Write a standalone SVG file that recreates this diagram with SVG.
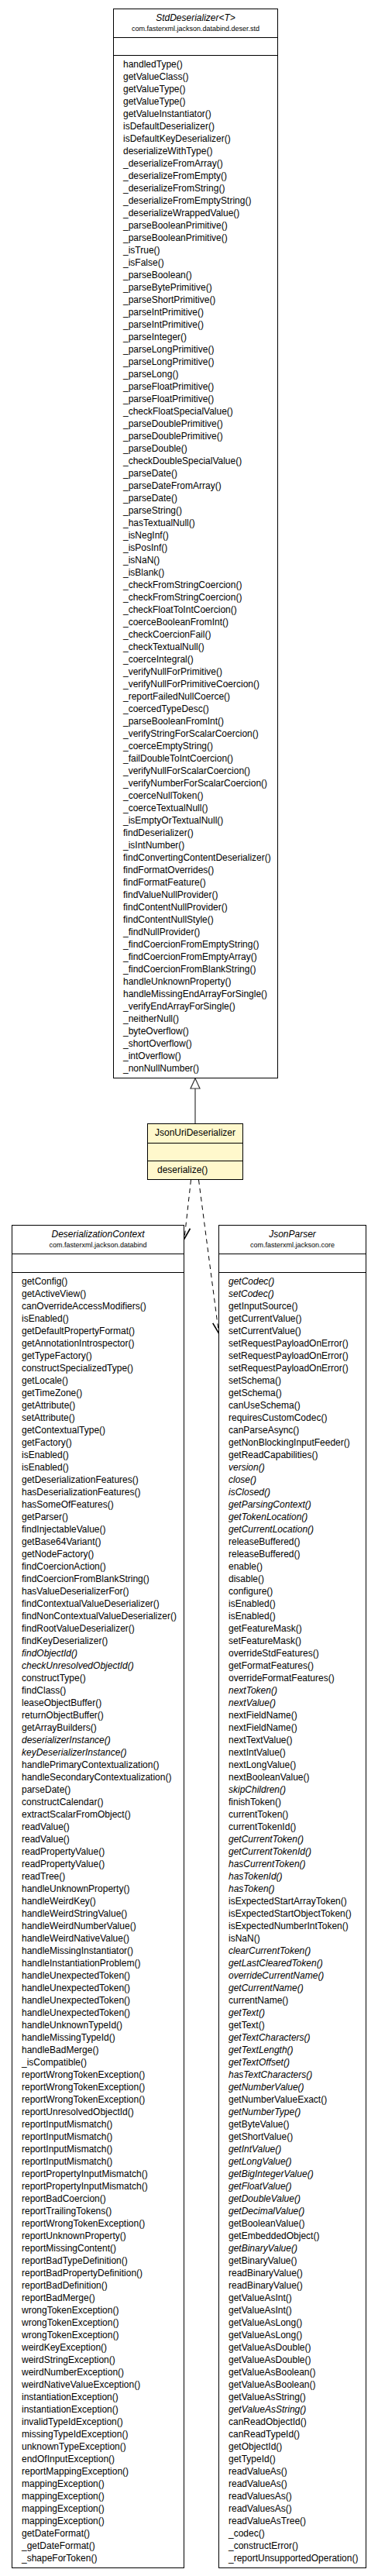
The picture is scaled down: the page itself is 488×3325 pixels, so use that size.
<svg xmlns="http://www.w3.org/2000/svg" width="488" height="3325" viewBox="0 0 488 3325">
<style>
.box{fill:#ffffff;stroke:#000000;stroke-width:1}
.yel{fill:#fff8cc;stroke:#000000;stroke-width:1}
.sep{stroke:#000000;stroke-width:1;fill:none}
text{font-family:"Liberation Sans",Arial,Helvetica,sans-serif;font-size:12px;fill:#000000}
.ttl{text-anchor:middle}
.pkg{text-anchor:middle;font-size:9px}
.i{font-style:italic}
.dash{stroke:#000000;stroke-width:1;fill:none;stroke-dasharray:6,5}
.gen{stroke:#333333;stroke-width:1.2;fill:none}
</style>
<defs>
<marker id="open" markerUnits="userSpaceOnUse" markerWidth="16" markerHeight="14" refX="15" refY="7" orient="auto" viewBox="0 0 16 14">
<path d="M1,1 L15,7 L1,13" fill="none" stroke="#000000" stroke-width="1.6"/>
</marker>
</defs>

<g id="connectors">
<polygon points="252,1392 246,1405 258,1405" fill="#ffffff" stroke="#333333" stroke-width="1.2"/>
<line class="gen" x1="252" y1="1405" x2="252" y2="1450.5"/>
<line class="dash" x1="246.5" y1="1523" x2="238" y2="1599" marker-end="url(#open)"/>
<line class="dash" x1="256.5" y1="1523" x2="282.5" y2="1721" marker-end="url(#open)"/>
</g>

<g id="StdDeserializer">
<rect class="box" x="146.5" y="11.5" width="212" height="1380"/>
<line class="sep" x1="146.5" y1="48.5" x2="358.5" y2="48.5"/>
<line class="sep" x1="146.5" y1="71.5" x2="358.5" y2="71.5"/>
<text class="ttl i" x="252.5" y="27">StdDeserializer&lt;T&gt;</text>
<text class="pkg" x="252.5" y="39.5">com.fasterxml.jackson.databind.deser.std</text>
<text x="159" y="87">
<tspan x="159" dy="0">handledType()</tspan>
<tspan x="159" dy="16">getValueClass()</tspan>
<tspan x="159" dy="16">getValueType()</tspan>
<tspan x="159" dy="16">getValueType()</tspan>
<tspan x="159" dy="16">getValueInstantiator()</tspan>
<tspan x="159" dy="16">isDefaultDeserializer()</tspan>
<tspan x="159" dy="16">isDefaultKeyDeserializer()</tspan>
<tspan x="159" dy="16">deserializeWithType()</tspan>
<tspan x="159" dy="16">_deserializeFromArray()</tspan>
<tspan x="159" dy="16">_deserializeFromEmpty()</tspan>
<tspan x="159" dy="16">_deserializeFromString()</tspan>
<tspan x="159" dy="16">_deserializeFromEmptyString()</tspan>
<tspan x="159" dy="16">_deserializeWrappedValue()</tspan>
<tspan x="159" dy="16">_parseBooleanPrimitive()</tspan>
<tspan x="159" dy="16">_parseBooleanPrimitive()</tspan>
<tspan x="159" dy="16">_isTrue()</tspan>
<tspan x="159" dy="16">_isFalse()</tspan>
<tspan x="159" dy="16">_parseBoolean()</tspan>
<tspan x="159" dy="16">_parseBytePrimitive()</tspan>
<tspan x="159" dy="16">_parseShortPrimitive()</tspan>
<tspan x="159" dy="16">_parseIntPrimitive()</tspan>
<tspan x="159" dy="16">_parseIntPrimitive()</tspan>
<tspan x="159" dy="16">_parseInteger()</tspan>
<tspan x="159" dy="16">_parseLongPrimitive()</tspan>
<tspan x="159" dy="16">_parseLongPrimitive()</tspan>
<tspan x="159" dy="16">_parseLong()</tspan>
<tspan x="159" dy="16">_parseFloatPrimitive()</tspan>
<tspan x="159" dy="16">_parseFloatPrimitive()</tspan>
<tspan x="159" dy="16">_checkFloatSpecialValue()</tspan>
<tspan x="159" dy="16">_parseDoublePrimitive()</tspan>
<tspan x="159" dy="16">_parseDoublePrimitive()</tspan>
<tspan x="159" dy="16">_parseDouble()</tspan>
<tspan x="159" dy="16">_checkDoubleSpecialValue()</tspan>
<tspan x="159" dy="16">_parseDate()</tspan>
<tspan x="159" dy="16">_parseDateFromArray()</tspan>
<tspan x="159" dy="16">_parseDate()</tspan>
<tspan x="159" dy="16">_parseString()</tspan>
<tspan x="159" dy="16">_hasTextualNull()</tspan>
<tspan x="159" dy="16">_isNegInf()</tspan>
<tspan x="159" dy="16">_isPosInf()</tspan>
<tspan x="159" dy="16">_isNaN()</tspan>
<tspan x="159" dy="16">_isBlank()</tspan>
<tspan x="159" dy="16">_checkFromStringCoercion()</tspan>
<tspan x="159" dy="16">_checkFromStringCoercion()</tspan>
<tspan x="159" dy="16">_checkFloatToIntCoercion()</tspan>
<tspan x="159" dy="16">_coerceBooleanFromInt()</tspan>
<tspan x="159" dy="16">_checkCoercionFail()</tspan>
<tspan x="159" dy="16">_checkTextualNull()</tspan>
<tspan x="159" dy="16">_coerceIntegral()</tspan>
<tspan x="159" dy="16">_verifyNullForPrimitive()</tspan>
<tspan x="159" dy="16">_verifyNullForPrimitiveCoercion()</tspan>
<tspan x="159" dy="16">_reportFailedNullCoerce()</tspan>
<tspan x="159" dy="16">_coercedTypeDesc()</tspan>
<tspan x="159" dy="16">_parseBooleanFromInt()</tspan>
<tspan x="159" dy="16">_verifyStringForScalarCoercion()</tspan>
<tspan x="159" dy="16">_coerceEmptyString()</tspan>
<tspan x="159" dy="16">_failDoubleToIntCoercion()</tspan>
<tspan x="159" dy="16">_verifyNullForScalarCoercion()</tspan>
<tspan x="159" dy="16">_verifyNumberForScalarCoercion()</tspan>
<tspan x="159" dy="16">_coerceNullToken()</tspan>
<tspan x="159" dy="16">_coerceTextualNull()</tspan>
<tspan x="159" dy="16">_isEmptyOrTextualNull()</tspan>
<tspan x="159" dy="16">findDeserializer()</tspan>
<tspan x="159" dy="16">_isIntNumber()</tspan>
<tspan x="159" dy="16">findConvertingContentDeserializer()</tspan>
<tspan x="159" dy="16">findFormatOverrides()</tspan>
<tspan x="159" dy="16">findFormatFeature()</tspan>
<tspan x="159" dy="16">findValueNullProvider()</tspan>
<tspan x="159" dy="16">findContentNullProvider()</tspan>
<tspan x="159" dy="16">findContentNullStyle()</tspan>
<tspan x="159" dy="16">_findNullProvider()</tspan>
<tspan x="159" dy="16">_findCoercionFromEmptyString()</tspan>
<tspan x="159" dy="16">_findCoercionFromEmptyArray()</tspan>
<tspan x="159" dy="16">_findCoercionFromBlankString()</tspan>
<tspan x="159" dy="16">handleUnknownProperty()</tspan>
<tspan x="159" dy="16">handleMissingEndArrayForSingle()</tspan>
<tspan x="159" dy="16">_verifyEndArrayForSingle()</tspan>
<tspan x="159" dy="16">_neitherNull()</tspan>
<tspan x="159" dy="16">_byteOverflow()</tspan>
<tspan x="159" dy="16">_shortOverflow()</tspan>
<tspan x="159" dy="16">_intOverflow()</tspan>
<tspan x="159" dy="16">_nonNullNumber()</tspan>
</text>
</g>

<g id="JsonUriDeserializer">
<rect class="yel" x="190.5" y="1450.5" width="123" height="72"/>
<line class="sep" x1="190.5" y1="1475.5" x2="313.5" y2="1475.5"/>
<line class="sep" x1="190.5" y1="1498.5" x2="313.5" y2="1498.5"/>
<text class="ttl" x="252" y="1466">JsonUriDeserializer</text>
<text x="203" y="1514">deserialize()</text>
</g>

<g id="DeserializationContext">
<rect class="box" x="15.5" y="1581.5" width="222" height="1733"/>
<line class="sep" x1="15.5" y1="1618.5" x2="237.5" y2="1618.5"/>
<line class="sep" x1="15.5" y1="1642.5" x2="237.5" y2="1642.5"/>
<text class="ttl i" x="126.5" y="1597">DeserializationContext</text>
<text class="pkg" x="126.5" y="1609.5">com.fasterxml.jackson.databind</text>
<text x="28" y="1658.3">
<tspan x="28" dy="0">getConfig()</tspan>
<tspan x="28" dy="16">getActiveView()</tspan>
<tspan x="28" dy="16">canOverrideAccessModifiers()</tspan>
<tspan x="28" dy="16">isEnabled()</tspan>
<tspan x="28" dy="16">getDefaultPropertyFormat()</tspan>
<tspan x="28" dy="16">getAnnotationIntrospector()</tspan>
<tspan x="28" dy="16">getTypeFactory()</tspan>
<tspan x="28" dy="16">constructSpecializedType()</tspan>
<tspan x="28" dy="16">getLocale()</tspan>
<tspan x="28" dy="16">getTimeZone()</tspan>
<tspan x="28" dy="16">getAttribute()</tspan>
<tspan x="28" dy="16">setAttribute()</tspan>
<tspan x="28" dy="16">getContextualType()</tspan>
<tspan x="28" dy="16">getFactory()</tspan>
<tspan x="28" dy="16">isEnabled()</tspan>
<tspan x="28" dy="16">isEnabled()</tspan>
<tspan x="28" dy="16">getDeserializationFeatures()</tspan>
<tspan x="28" dy="16">hasDeserializationFeatures()</tspan>
<tspan x="28" dy="16">hasSomeOfFeatures()</tspan>
<tspan x="28" dy="16">getParser()</tspan>
<tspan x="28" dy="16">findInjectableValue()</tspan>
<tspan x="28" dy="16">getBase64Variant()</tspan>
<tspan x="28" dy="16">getNodeFactory()</tspan>
<tspan x="28" dy="16">findCoercionAction()</tspan>
<tspan x="28" dy="16">findCoercionFromBlankString()</tspan>
<tspan x="28" dy="16">hasValueDeserializerFor()</tspan>
<tspan x="28" dy="16">findContextualValueDeserializer()</tspan>
<tspan x="28" dy="16">findNonContextualValueDeserializer()</tspan>
<tspan x="28" dy="16">findRootValueDeserializer()</tspan>
<tspan x="28" dy="16">findKeyDeserializer()</tspan>
<tspan x="28" dy="16" class="i">findObjectId()</tspan>
<tspan x="28" dy="16" class="i">checkUnresolvedObjectId()</tspan>
<tspan x="28" dy="16">constructType()</tspan>
<tspan x="28" dy="16">findClass()</tspan>
<tspan x="28" dy="16">leaseObjectBuffer()</tspan>
<tspan x="28" dy="16">returnObjectBuffer()</tspan>
<tspan x="28" dy="16">getArrayBuilders()</tspan>
<tspan x="28" dy="16" class="i">deserializerInstance()</tspan>
<tspan x="28" dy="16" class="i">keyDeserializerInstance()</tspan>
<tspan x="28" dy="16">handlePrimaryContextualization()</tspan>
<tspan x="28" dy="16">handleSecondaryContextualization()</tspan>
<tspan x="28" dy="16">parseDate()</tspan>
<tspan x="28" dy="16">constructCalendar()</tspan>
<tspan x="28" dy="16">extractScalarFromObject()</tspan>
<tspan x="28" dy="16">readValue()</tspan>
<tspan x="28" dy="16">readValue()</tspan>
<tspan x="28" dy="16">readPropertyValue()</tspan>
<tspan x="28" dy="16">readPropertyValue()</tspan>
<tspan x="28" dy="16">readTree()</tspan>
<tspan x="28" dy="16">handleUnknownProperty()</tspan>
<tspan x="28" dy="16">handleWeirdKey()</tspan>
<tspan x="28" dy="16">handleWeirdStringValue()</tspan>
<tspan x="28" dy="16">handleWeirdNumberValue()</tspan>
<tspan x="28" dy="16">handleWeirdNativeValue()</tspan>
<tspan x="28" dy="16">handleMissingInstantiator()</tspan>
<tspan x="28" dy="16">handleInstantiationProblem()</tspan>
<tspan x="28" dy="16">handleUnexpectedToken()</tspan>
<tspan x="28" dy="16">handleUnexpectedToken()</tspan>
<tspan x="28" dy="16">handleUnexpectedToken()</tspan>
<tspan x="28" dy="16">handleUnexpectedToken()</tspan>
<tspan x="28" dy="16">handleUnknownTypeId()</tspan>
<tspan x="28" dy="16">handleMissingTypeId()</tspan>
<tspan x="28" dy="16">handleBadMerge()</tspan>
<tspan x="28" dy="16">_isCompatible()</tspan>
<tspan x="28" dy="16">reportWrongTokenException()</tspan>
<tspan x="28" dy="16">reportWrongTokenException()</tspan>
<tspan x="28" dy="16">reportWrongTokenException()</tspan>
<tspan x="28" dy="16">reportUnresolvedObjectId()</tspan>
<tspan x="28" dy="16">reportInputMismatch()</tspan>
<tspan x="28" dy="16">reportInputMismatch()</tspan>
<tspan x="28" dy="16">reportInputMismatch()</tspan>
<tspan x="28" dy="16">reportInputMismatch()</tspan>
<tspan x="28" dy="16">reportPropertyInputMismatch()</tspan>
<tspan x="28" dy="16">reportPropertyInputMismatch()</tspan>
<tspan x="28" dy="16">reportBadCoercion()</tspan>
<tspan x="28" dy="16">reportTrailingTokens()</tspan>
<tspan x="28" dy="16">reportWrongTokenException()</tspan>
<tspan x="28" dy="16">reportUnknownProperty()</tspan>
<tspan x="28" dy="16">reportMissingContent()</tspan>
<tspan x="28" dy="16">reportBadTypeDefinition()</tspan>
<tspan x="28" dy="16">reportBadPropertyDefinition()</tspan>
<tspan x="28" dy="16">reportBadDefinition()</tspan>
<tspan x="28" dy="16">reportBadMerge()</tspan>
<tspan x="28" dy="16">wrongTokenException()</tspan>
<tspan x="28" dy="16">wrongTokenException()</tspan>
<tspan x="28" dy="16">wrongTokenException()</tspan>
<tspan x="28" dy="16">weirdKeyException()</tspan>
<tspan x="28" dy="16">weirdStringException()</tspan>
<tspan x="28" dy="16">weirdNumberException()</tspan>
<tspan x="28" dy="16">weirdNativeValueException()</tspan>
<tspan x="28" dy="16">instantiationException()</tspan>
<tspan x="28" dy="16">instantiationException()</tspan>
<tspan x="28" dy="16">invalidTypeIdException()</tspan>
<tspan x="28" dy="16">missingTypeIdException()</tspan>
<tspan x="28" dy="16">unknownTypeException()</tspan>
<tspan x="28" dy="16">endOfInputException()</tspan>
<tspan x="28" dy="16">reportMappingException()</tspan>
<tspan x="28" dy="16">mappingException()</tspan>
<tspan x="28" dy="16">mappingException()</tspan>
<tspan x="28" dy="16">mappingException()</tspan>
<tspan x="28" dy="16">mappingException()</tspan>
<tspan x="28" dy="16">getDateFormat()</tspan>
<tspan x="28" dy="16">_getDateFormat()</tspan>
<tspan x="28" dy="16">_shapeForToken()</tspan>
</text>
</g>

<g id="JsonParser">
<rect class="box" x="282.5" y="1581.5" width="190" height="1733"/>
<line class="sep" x1="282.5" y1="1618.5" x2="472.5" y2="1618.5"/>
<line class="sep" x1="282.5" y1="1642.5" x2="472.5" y2="1642.5"/>
<text class="ttl i" x="377.5" y="1597">JsonParser</text>
<text class="pkg" x="377.5" y="1609.5">com.fasterxml.jackson.core</text>
<text x="295" y="1658.3">
<tspan x="295" dy="0" class="i">getCodec()</tspan>
<tspan x="295" dy="16" class="i">setCodec()</tspan>
<tspan x="295" dy="16">getInputSource()</tspan>
<tspan x="295" dy="16">getCurrentValue()</tspan>
<tspan x="295" dy="16">setCurrentValue()</tspan>
<tspan x="295" dy="16">setRequestPayloadOnError()</tspan>
<tspan x="295" dy="16">setRequestPayloadOnError()</tspan>
<tspan x="295" dy="16">setRequestPayloadOnError()</tspan>
<tspan x="295" dy="16">setSchema()</tspan>
<tspan x="295" dy="16">getSchema()</tspan>
<tspan x="295" dy="16">canUseSchema()</tspan>
<tspan x="295" dy="16">requiresCustomCodec()</tspan>
<tspan x="295" dy="16">canParseAsync()</tspan>
<tspan x="295" dy="16">getNonBlockingInputFeeder()</tspan>
<tspan x="295" dy="16">getReadCapabilities()</tspan>
<tspan x="295" dy="16" class="i">version()</tspan>
<tspan x="295" dy="16" class="i">close()</tspan>
<tspan x="295" dy="16" class="i">isClosed()</tspan>
<tspan x="295" dy="16" class="i">getParsingContext()</tspan>
<tspan x="295" dy="16" class="i">getTokenLocation()</tspan>
<tspan x="295" dy="16" class="i">getCurrentLocation()</tspan>
<tspan x="295" dy="16">releaseBuffered()</tspan>
<tspan x="295" dy="16">releaseBuffered()</tspan>
<tspan x="295" dy="16">enable()</tspan>
<tspan x="295" dy="16">disable()</tspan>
<tspan x="295" dy="16">configure()</tspan>
<tspan x="295" dy="16">isEnabled()</tspan>
<tspan x="295" dy="16">isEnabled()</tspan>
<tspan x="295" dy="16">getFeatureMask()</tspan>
<tspan x="295" dy="16">setFeatureMask()</tspan>
<tspan x="295" dy="16">overrideStdFeatures()</tspan>
<tspan x="295" dy="16">getFormatFeatures()</tspan>
<tspan x="295" dy="16">overrideFormatFeatures()</tspan>
<tspan x="295" dy="16" class="i">nextToken()</tspan>
<tspan x="295" dy="16" class="i">nextValue()</tspan>
<tspan x="295" dy="16">nextFieldName()</tspan>
<tspan x="295" dy="16">nextFieldName()</tspan>
<tspan x="295" dy="16">nextTextValue()</tspan>
<tspan x="295" dy="16">nextIntValue()</tspan>
<tspan x="295" dy="16">nextLongValue()</tspan>
<tspan x="295" dy="16">nextBooleanValue()</tspan>
<tspan x="295" dy="16" class="i">skipChildren()</tspan>
<tspan x="295" dy="16">finishToken()</tspan>
<tspan x="295" dy="16">currentToken()</tspan>
<tspan x="295" dy="16">currentTokenId()</tspan>
<tspan x="295" dy="16" class="i">getCurrentToken()</tspan>
<tspan x="295" dy="16" class="i">getCurrentTokenId()</tspan>
<tspan x="295" dy="16" class="i">hasCurrentToken()</tspan>
<tspan x="295" dy="16" class="i">hasTokenId()</tspan>
<tspan x="295" dy="16" class="i">hasToken()</tspan>
<tspan x="295" dy="16">isExpectedStartArrayToken()</tspan>
<tspan x="295" dy="16">isExpectedStartObjectToken()</tspan>
<tspan x="295" dy="16">isExpectedNumberIntToken()</tspan>
<tspan x="295" dy="16">isNaN()</tspan>
<tspan x="295" dy="16" class="i">clearCurrentToken()</tspan>
<tspan x="295" dy="16" class="i">getLastClearedToken()</tspan>
<tspan x="295" dy="16" class="i">overrideCurrentName()</tspan>
<tspan x="295" dy="16" class="i">getCurrentName()</tspan>
<tspan x="295" dy="16">currentName()</tspan>
<tspan x="295" dy="16" class="i">getText()</tspan>
<tspan x="295" dy="16">getText()</tspan>
<tspan x="295" dy="16" class="i">getTextCharacters()</tspan>
<tspan x="295" dy="16" class="i">getTextLength()</tspan>
<tspan x="295" dy="16" class="i">getTextOffset()</tspan>
<tspan x="295" dy="16" class="i">hasTextCharacters()</tspan>
<tspan x="295" dy="16" class="i">getNumberValue()</tspan>
<tspan x="295" dy="16">getNumberValueExact()</tspan>
<tspan x="295" dy="16" class="i">getNumberType()</tspan>
<tspan x="295" dy="16">getByteValue()</tspan>
<tspan x="295" dy="16">getShortValue()</tspan>
<tspan x="295" dy="16" class="i">getIntValue()</tspan>
<tspan x="295" dy="16" class="i">getLongValue()</tspan>
<tspan x="295" dy="16" class="i">getBigIntegerValue()</tspan>
<tspan x="295" dy="16" class="i">getFloatValue()</tspan>
<tspan x="295" dy="16" class="i">getDoubleValue()</tspan>
<tspan x="295" dy="16" class="i">getDecimalValue()</tspan>
<tspan x="295" dy="16">getBooleanValue()</tspan>
<tspan x="295" dy="16">getEmbeddedObject()</tspan>
<tspan x="295" dy="16" class="i">getBinaryValue()</tspan>
<tspan x="295" dy="16">getBinaryValue()</tspan>
<tspan x="295" dy="16">readBinaryValue()</tspan>
<tspan x="295" dy="16">readBinaryValue()</tspan>
<tspan x="295" dy="16">getValueAsInt()</tspan>
<tspan x="295" dy="16">getValueAsInt()</tspan>
<tspan x="295" dy="16">getValueAsLong()</tspan>
<tspan x="295" dy="16">getValueAsLong()</tspan>
<tspan x="295" dy="16">getValueAsDouble()</tspan>
<tspan x="295" dy="16">getValueAsDouble()</tspan>
<tspan x="295" dy="16">getValueAsBoolean()</tspan>
<tspan x="295" dy="16">getValueAsBoolean()</tspan>
<tspan x="295" dy="16">getValueAsString()</tspan>
<tspan x="295" dy="16" class="i">getValueAsString()</tspan>
<tspan x="295" dy="16">canReadObjectId()</tspan>
<tspan x="295" dy="16">canReadTypeId()</tspan>
<tspan x="295" dy="16">getObjectId()</tspan>
<tspan x="295" dy="16">getTypeId()</tspan>
<tspan x="295" dy="16">readValueAs()</tspan>
<tspan x="295" dy="16">readValueAs()</tspan>
<tspan x="295" dy="16">readValuesAs()</tspan>
<tspan x="295" dy="16">readValuesAs()</tspan>
<tspan x="295" dy="16">readValueAsTree()</tspan>
<tspan x="295" dy="16">_codec()</tspan>
<tspan x="295" dy="16">_constructError()</tspan>
<tspan x="295" dy="16">_reportUnsupportedOperation()</tspan>
</text>
</g>
</svg>
